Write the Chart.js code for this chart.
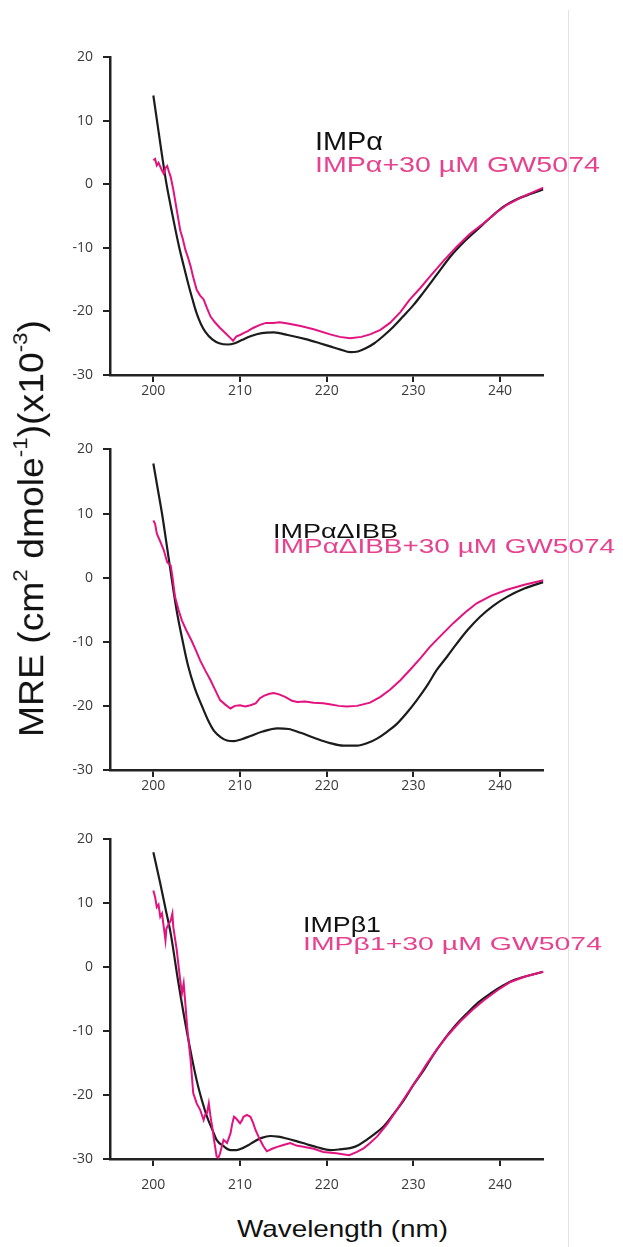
<!DOCTYPE html>
<html>
<head>
<meta charset="utf-8">
<script src="https://cdn.jsdelivr.net/npm/chart.js@4.4.1/dist/chart.umd.min.js"></script>
<style>
  html, body { margin: 0; padding: 0; background: #fff; }
  body { width: 623px; height: 1247px; position: relative; overflow: hidden; font-family: "Liberation Sans", Arial, sans-serif; }
  .panel { position: absolute; left: 0; }
  .txt { position: absolute; white-space: nowrap; line-height: 1; transform-origin: 0 0; }
  .txt sup { font-size: 0.6em; line-height: 0; vertical-align: 0.75em; }
  #divider { position: absolute; left: 568px; top: 10px; width: 1px; height: 1237px; background: #e2e2e2; }
</style>
</head>
<body>
<div id="divider"></div>

<script>
// tick labels
const xTicks = [200, 210, 220, 230, 240];
const yTicks = [-30, -20, -10, 0, 10, 20];

// IMPα
const impaWl = [200, 200.5, 201, 201.5, 202, 202.5, 203, 203.5, 204, 204.5, 205, 205.5, 206, 206.8, 207.6, 208.6, 209.4, 210.2, 211.2, 212.5, 213.9, 215.5, 217.7, 219.2, 220.4, 221.6, 222.7, 223.6, 224.5, 225.5, 226.5, 227.7, 228.8, 230.0, 231.1, 232.7, 234.3, 235.8, 237.3, 238.9, 240.4, 242.0, 243.5, 245];
const impaMre = [14, 9.3, 4.6, 0.2, -3.4, -6.8, -10, -12.8, -15.5, -18, -20.3, -22, -23.2, -24.4, -25.0, -25.2, -25.0, -24.5, -23.9, -23.4, -23.3, -23.7, -24.4, -25.0, -25.5, -26.0, -26.4, -26.3, -25.8, -25.0, -23.9, -22.4, -20.8, -19.0, -17.1, -14.2, -11.3, -9.1, -7.2, -5.2, -3.5, -2.3, -1.5, -0.8];

// IMPα + 30 µM GW5074
const impaGwWl = [200, 200.2, 200.4, 200.6, 200.8, 201.0, 201.2, 201.4, 201.6, 201.8, 202.0, 202.3, 202.5, 202.8, 203.1, 203.4, 203.7, 204.0, 204.3, 204.6, 205.0, 205.4, 205.8, 206.2, 206.6, 207.1, 207.7, 208.3, 208.9, 209.2, 209.6, 210.0, 210.4, 210.9, 211.5, 212.3, 213.0, 213.8, 214.6, 215.5, 217.0, 218.5, 220.4, 221.5, 222.7, 224.0, 225.0, 226.2, 227.3, 228.5, 229.6, 230.8, 231.9, 233.5, 235.0, 236.5, 238.1, 239.5, 240.8, 242.5, 245];
const impaGwMre = [3.8, 4.0, 3.0, 3.4, 2.8, 2.2, 1.7, 2.6, 2.9, 2.0, 1.2, -0.8, -2.4, -4.8, -7.2, -8.6, -10.3, -11.5, -12.9, -14.6, -16.6, -17.5, -18.1, -19.5, -20.8, -21.7, -22.6, -23.4, -24.2, -24.6, -23.9, -23.7, -23.4, -23.1, -22.6, -22.1, -21.8, -21.8, -21.7, -21.9, -22.3, -22.8, -23.6, -24.0, -24.2, -24.0, -23.6, -22.9, -21.8, -20.1, -18.1, -16.3, -14.5, -12.0, -9.8, -7.8, -6.1, -4.5, -3.2, -2.0, -0.5];

// IMPαΔIBB
const ibbWl = [200, 200.5, 201, 201.5, 202.1, 202.7, 203.4, 204, 204.8, 205.6, 206.3, 207.0, 207.8, 208.5, 209.3, 210.2, 211.2, 212.6, 214.3, 215.6, 217.0, 218.6, 220.4, 221.9, 223.5, 224.7, 225.8, 227.0, 228.1, 229.3, 230.4, 231.6, 232.7, 233.9, 235.0, 236.3, 237.7, 239.2, 240.8, 242.8, 245];
const ibbMre = [17.8, 13.9, 10, 5.5, 0, -5.2, -10, -13.7, -17.3, -20, -22.2, -23.9, -24.9, -25.4, -25.5, -25.2, -24.7, -24.0, -23.5, -23.6, -24.2, -25.0, -25.8, -26.2, -26.2, -25.8, -25.1, -24.0, -22.8, -21.0, -19.1, -16.8, -14.4, -12.3, -10.3, -8.1, -6.1, -4.4, -3.0, -1.7, -0.7];

// IMPαΔIBB + 30 µM GW5074
const ibbGwWl = [200, 200.2, 200.4, 200.8, 201.2, 201.6, 202.0, 202.2, 202.5, 202.9, 203.3, 203.8, 204.4, 204.9, 205.4, 206.0, 206.6, 207.2, 207.7, 208.3, 208.9, 209.4, 210.0, 210.6, 211.2, 211.8, 212.3, 212.8, 213.4, 213.9, 214.5, 215.2, 216.0, 216.6, 217.5, 218.5, 219.6, 220.5, 221.4, 222.3, 223.5, 225.0, 226.2, 227.3, 228.5, 229.6, 230.8, 231.9, 233.2, 234.6, 236.0, 237.3, 239.0, 240.8, 242.8, 245];
const ibbGwMre = [8.9, 8.4, 6.9, 5.6, 4.3, 2.4, 1.9, 0.2, -3.0, -5.0, -6.7, -8.2, -9.8, -11.3, -12.9, -14.5, -16.0, -17.7, -19.1, -19.8, -20.4, -20.0, -19.9, -20.1, -19.9, -19.6, -18.8, -18.4, -18.1, -18.0, -18.2, -18.6, -19.2, -19.4, -19.3, -19.5, -19.6, -19.8, -20.0, -20.1, -20.0, -19.5, -18.6, -17.5, -16.0, -14.4, -12.6, -10.8, -9.0, -7.1, -5.4, -4.0, -2.8, -1.9, -1.1, -0.4];

// IMPβ1
const impbWl = [200, 200.8, 201.4, 202.0, 202.9, 203.9, 205.0, 205.6, 206.2, 206.8, 207.3, 208.1, 208.9, 209.6, 210.3, 211.0, 211.6, 212.5, 213.5, 214.4, 215.4, 216.5, 217.7, 219.0, 220.4, 221.5, 222.7, 223.7, 224.6, 225.5, 226.5, 227.7, 228.9, 230.0, 231.2, 232.3, 233.5, 234.8, 236.2, 237.5, 238.9, 240.3, 241.6, 243.3, 245];
const impbMre = [18.0, 13.1, 9.2, 5.3, -2.5, -10.3, -17.7, -20.8, -23.4, -25.4, -27.0, -28.0, -28.6, -28.6, -28.3, -27.8, -27.3, -26.7, -26.4, -26.5, -26.8, -27.2, -27.7, -28.2, -28.6, -28.5, -28.3, -27.8, -27.0, -26.1, -25.0, -23.0, -20.8, -18.4, -16.1, -13.7, -11.4, -9.2, -7.2, -5.5, -4.1, -2.9, -2.0, -1.3, -0.7];

// IMPβ1 + 30 µM GW5074
const impbGwWl = [200.0, 200.2, 200.4, 200.6, 200.8, 201.0, 201.2, 201.4, 201.5, 201.6, 201.8, 202.0, 202.2, 202.3, 202.5, 202.7, 202.9, 203.1, 203.3, 203.5, 203.7, 203.9, 204.1, 204.3, 204.6, 205.0, 205.4, 205.8, 206.0, 206.2, 206.4, 206.6, 206.8, 207.0, 207.3, 207.5, 207.7, 208.1, 208.5, 208.9, 209.1, 209.3, 209.5, 209.7, 210.0, 210.2, 210.4, 210.8, 211.2, 211.5, 211.8, 212.3, 212.7, 213.1, 213.7, 214.3, 215.0, 215.8, 216.5, 217.3, 218.5, 219.6, 221.1, 222.6, 223.5, 224.3, 225.0, 225.8, 227.0, 228.1, 229.2, 230.4, 231.5, 232.7, 234.0, 235.4, 236.8, 238.1, 239.7, 241.2, 243.0, 245];
const impbGwMre = [12.0, 11.0, 9.4, 9.8, 7.9, 8.4, 6.3, 4.2, 6.0, 6.3, 6.8, 7.3, 8.4, 6.3, 4.5, 2.7, 0.3, -2.0, -4.1, -2.5, -5.8, -9.3, -12.0, -14.5, -19.7, -21.3, -22.3, -23.9, -23.0, -22.8, -21.3, -23.4, -25.0, -27.0, -29.6, -29.8, -29.1, -27.0, -27.5, -26.0, -24.5, -23.4, -23.6, -23.9, -24.4, -24.0, -23.4, -23.1, -23.4, -24.3, -25.5, -27.0, -28.0, -28.8, -28.4, -28.1, -27.8, -27.5, -27.9, -28.1, -28.4, -28.9, -29.1, -29.4, -28.9, -28.3, -27.5, -26.5, -24.5, -22.3, -20.0, -17.6, -15.2, -12.9, -10.6, -8.5, -6.7, -5.2, -3.6, -2.3, -1.4, -0.7];

const BLACK = '#1c1c1c';
const PINK_LINE = '#e2127f';
const PINK_TEXT = '#e6428f';
const AXIS = '#222222';

function pts(xs, ys) {
    return xs.map((x, i) => ({ x: x, y: ys[i] }));
}

// plot area tops / bottoms on the page, x tick label gap
const panels = [
    { top: 57, bottom: 375, gap: 1, base: [impaWl, impaMre], drug: [impaGwWl, impaGwMre] },
    { top: 449, bottom: 770, gap: 1, base: [ibbWl, ibbMre], drug: [ibbGwWl, ibbGwMre] },
    { top: 839, bottom: 1159, gap: 11, base: [impbWl, impbMre], drug: [impbGwWl, impbGwMre] }
];

const PAD_TOP = 12;
const TOP_OFFSET = 18; // chart area starts this far below the canvas top
const X_AXIS_H = 40;

panels.forEach(p => {
    const wrap = document.createElement('div');
    wrap.className = 'panel';
    wrap.style.top = (p.top - TOP_OFFSET) + 'px';
    const canvas = document.createElement('canvas');
    canvas.width = 560;
    canvas.height = (p.bottom - p.top) + TOP_OFFSET + X_AXIS_H;
    wrap.appendChild(canvas);
    document.body.appendChild(wrap);

    new Chart(canvas.getContext('2d'), {
        type: 'line',
        data: {
            datasets: [{
                data: pts(p.base[0], p.base[1]),
                borderColor: BLACK,
                borderWidth: 2.2,
                pointRadius: 0,
                cubicInterpolationMode: 'monotone',
                order: 2
            }, {
                data: pts(p.drug[0], p.drug[1]),
                borderColor: PINK_LINE,
                borderWidth: 2,
                pointRadius: 0,
                tension: 0,
                order: 1
            }]
        },
        options: {
            responsive: false,
            animation: false,
            layout: { padding: { top: PAD_TOP, right: 560 - 543.4, bottom: 0, left: 0 } },
            plugins: { legend: { display: false }, tooltip: { enabled: false } },
            scales: {
                x: {
                    type: 'linear',
                    min: 195,
                    max: 245,
                    afterBuildTicks: s => { s.ticks = xTicks.map(v => ({ value: v })); },
                    afterFit: s => { s.height = X_AXIS_H; },
                    border: { display: true, color: AXIS, width: 2.5 },
                    grid: { drawOnChartArea: false, drawTicks: true, tickLength: 7, color: AXIS, lineWidth: 2 },
                    ticks: { color: '#3a3a3a', padding: p.gap, maxRotation: 0, font: { family: 'Open Sans', size: 14 } }
                },
                y: {
                    min: -30,
                    max: 20,
                    afterBuildTicks: s => { s.ticks = yTicks.map(v => ({ value: v })); },
                    afterFit: s => { s.width = 110; },
                    border: { display: true, color: AXIS, width: 2.5 },
                    grid: { drawOnChartArea: false, drawTicks: true, tickLength: 7, color: AXIS, lineWidth: 2 },
                    ticks: { color: '#3a3a3a', padding: 10, font: { family: 'Open Sans', size: 14 } }
                }
            }
        }
    });
});

// text labels: html, left, baseline, font size, colour, target width
function addText(html, left, baseline, size, color, width) {
    const d = document.createElement('div');
    d.className = 'txt';
    d.innerHTML = html;
    d.style.fontSize = size + 'px';
    d.style.color = color;
    d.style.left = left + 'px';
    d.style.top = (baseline - 0.8465 * size) + 'px';
    document.body.appendChild(d);
    const w = d.getBoundingClientRect().width;
    d.style.transform = 'scaleX(' + (width / w) + ')';
}

addText('IMPα', 315, 150, 25, '#111', 68);
addText('IMPα+30 µM GW5074', 315, 173, 22, PINK_TEXT, 285);
addText('IMPαΔIBB', 273, 538, 21, '#111', 125);
addText('IMPαΔIBB+30 µM GW5074', 273, 553, 20, PINK_TEXT, 342);
addText('IMPβ1', 303, 933, 22, '#111', 78);
addText('IMPβ1+30 µM GW5074', 303, 950, 19, PINK_TEXT, 299);
addText('Wavelength (nm)', 237, 1237, 24, '#111', 211);

// rotated y-axis title
(function () {
    const size = 35;
    const d = document.createElement('div');
    d.className = 'txt';
    d.innerHTML = 'MRE (cm<sup>2</sup> dmole<sup>-1</sup>)(x10<sup>-3</sup>)';
    d.style.fontSize = size + 'px';
    d.style.color = '#111';
    document.body.appendChild(d);
    const w = d.getBoundingClientRect().width;
    const cx = 31, cy = 528;
    d.style.left = (cx - w / 2) + 'px';
    d.style.top = (cy - size / 2) + 'px';
    d.style.transformOrigin = '50% 50%';
    d.style.transform = 'rotate(-90deg) scaleX(' + (417 / w) + ')';
})();
</script>
</body>
</html>
